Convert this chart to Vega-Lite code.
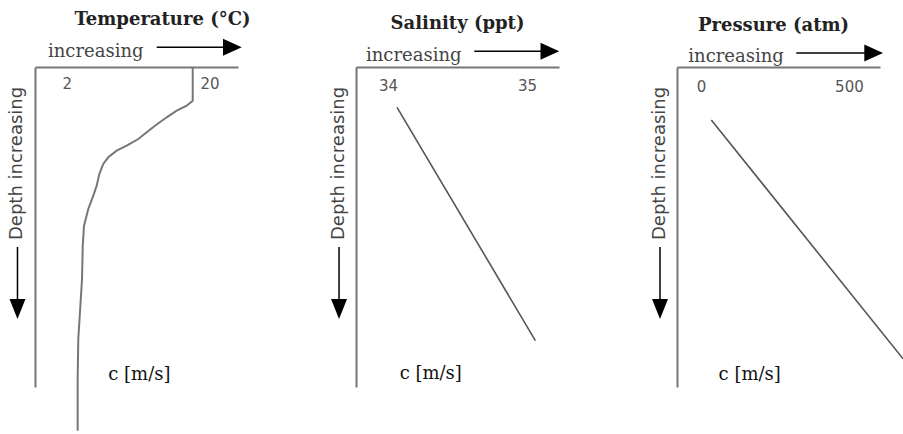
{
  "$schema": "https://vega.github.io/schema/vega-lite/v6.json",
  "background": "white",
  "padding": {"left": 8, "top": 10, "right": 0, "bottom": 0},
  "config": {"view": {"stroke": null}},
  "bounds": "flush",
  "spacing": 118,
  "hconcat": [
    {
      "width": 203,
      "height": 320,
      "title": {"text": "Temperature (°C)", "font": "DejaVu Serif", "fontWeight": "bold", "fontSize": 18, "color": "#222", "anchor": "middle", "dx": 26, "offset": 10},
      "layer": [
        {
          "data": {"values": [
            {"temperature": 17.89, "depth": 0},
            {"temperature": 17.89, "depth": 10.53},
            {"temperature": 17.13, "depth": 12.09},
            {"temperature": 15.87, "depth": 13.66},
            {"temperature": 14.61, "depth": 15.72},
            {"temperature": 13.13, "depth": 18.34},
            {"temperature": 12.09, "depth": 20.41},
            {"temperature": 11.03, "depth": 22.5},
            {"temperature": 9.56, "depth": 24.59},
            {"temperature": 8.3, "depth": 26.16},
            {"temperature": 7.24, "depth": 28.22},
            {"temperature": 6.61, "depth": 30.31},
            {"temperature": 6.11, "depth": 33.44},
            {"temperature": 5.78, "depth": 37.09},
            {"temperature": 5.35, "depth": 40.22},
            {"temperature": 4.72, "depth": 44.38},
            {"temperature": 4.18, "depth": 49.59},
            {"temperature": 4.02, "depth": 55.84},
            {"temperature": 3.93, "depth": 66.25},
            {"temperature": 3.67, "depth": 76.66},
            {"temperature": 3.46, "depth": 85},
            {"temperature": 3.38, "depth": 97.5},
            {"temperature": 3.38, "depth": 113.66}
          ]},
          "mark": {"type": "line", "color": "#777", "strokeWidth": 2, "clip": false},
          "encoding": {
            "x": {"field": "temperature", "type": "quantitative", "scale": {"domain": [-2, 23.6], "nice": false, "zero": false},
              "axis": {"orient": "top", "values": [2, 20], "format": "d", "ticks": false, "tickSize": 0, "domain": true, "domainColor": "#777", "domainWidth": 2, "grid": false, "labelFont": "DejaVu Sans", "labelFontSize": 15, "labelColor": "#555", "labelPadding": -16, "labelBaseline": "middle", "labelFlush": false, "title": null}},
            "y": {"field": "depth", "type": "quantitative", "scale": {"domain": [0, 100], "reverse": true, "nice": false, "zero": false},
              "axis": {"orient": "left", "domain": true, "domainColor": "#777", "domainWidth": 2, "ticks": false, "labels": false, "grid": false, "title": null}},
            "order": {"field": "depth", "type": "quantitative"}
          }
        },
        {
          "data": {"values": [{"x": -0.36, "y": -3.28, "label": "increasing"}]},
          "mark": {"type": "text", "align": "left", "baseline": "alphabetic", "font": "DejaVu Serif", "fontSize": 18, "color": "#444", "clip": false},
          "encoding": {"x": {"field": "x", "type": "quantitative"}, "y": {"field": "y", "type": "quantitative"}, "text": {"field": "label"}}
        },
        {
          "data": {"values": [{"x": 13.35, "x2": 21.83, "y": -6.16}]},
          "mark": {"type": "rule", "color": "#000", "strokeWidth": 1.5, "clip": false},
          "encoding": {"x": {"field": "x", "type": "quantitative"}, "x2": {"field": "x2"}, "y": {"field": "y", "type": "quantitative"}}
        },
        {
          "data": {"values": [{"x": 22.89, "y": -6.16}]},
          "mark": {"type": "point", "shape": "M-1,-0.9L1,0L-1,0.9Z", "filled": true, "opacity": 1, "color": "#000", "size": 350, "clip": false},
          "encoding": {"x": {"field": "x", "type": "quantitative"}, "y": {"field": "y", "type": "quantitative"}}
        },
        {
          "data": {"values": [{"x": -4.21, "y": 54.06, "label": "Depth increasing"}]},
          "mark": {"type": "text", "angle": 270, "align": "left", "baseline": "middle", "font": "DejaVu Sans", "fontSize": 18, "color": "#444", "clip": false},
          "encoding": {"x": {"field": "x", "type": "quantitative"}, "y": {"field": "y", "type": "quantitative"}, "text": {"field": "label"}}
        },
        {
          "data": {"values": [{"x": -4.21, "y": 56.25, "y2": 72.8}]},
          "mark": {"type": "rule", "color": "#000", "strokeWidth": 1.5, "clip": false},
          "encoding": {"x": {"field": "x", "type": "quantitative"}, "y": {"field": "y", "type": "quantitative"}, "y2": {"field": "y2"}}
        },
        {
          "data": {"values": [{"x": -4.21, "y": 75.6}]},
          "mark": {"type": "point", "shape": "M-0.8,-1L0.8,-1L0,1Z", "filled": true, "opacity": 1, "color": "#000", "size": 400, "clip": false},
          "encoding": {"x": {"field": "x", "type": "quantitative"}, "y": {"field": "y", "type": "quantitative"}}
        },
        {
          "data": {"values": [{"x": 7.24, "y": 97.8, "label": "c [m/s]"}]},
          "mark": {"type": "text", "align": "left", "baseline": "alphabetic", "font": "DejaVu Serif", "fontSize": 18, "color": "#111", "clip": false},
          "encoding": {"x": {"field": "x", "type": "quantitative"}, "y": {"field": "y", "type": "quantitative"}, "text": {"field": "label"}}
        }
      ]
    },
    {
      "width": 203,
      "height": 320,
      "title": {"text": "Salinity (ppt)", "font": "DejaVu Serif", "fontWeight": "bold", "fontSize": 18, "color": "#222", "anchor": "middle", "dx": 0, "offset": 10},
      "layer": [
        {
          "data": {"values": [
            {"salinity": 34.065, "depth": 12.6},
            {"salinity": 35.06, "depth": 85.5}
          ]},
          "mark": {"type": "line", "color": "#555", "strokeWidth": 1.6, "clip": false},
          "encoding": {
            "x": {"field": "salinity", "type": "quantitative", "scale": {"domain": [33.77, 35.23], "nice": false, "zero": false},
              "axis": {"orient": "top", "values": [34, 35], "format": "d", "ticks": false, "tickSize": 0, "domain": true, "domainColor": "#777", "domainWidth": 2, "grid": false, "labelFont": "DejaVu Sans", "labelFontSize": 15, "labelColor": "#555", "labelPadding": -18, "labelBaseline": "middle", "labelFlush": false, "title": null}},
            "y": {"field": "depth", "type": "quantitative", "scale": {"domain": [0, 100], "reverse": true, "nice": false, "zero": false},
              "axis": {"orient": "left", "domain": true, "domainColor": "#777", "domainWidth": 2, "ticks": false, "labels": false, "grid": false, "title": null}},
            "order": {"field": "depth", "type": "quantitative"}
          }
        },
        {
          "data": {"values": [{"x": 33.842, "y": -1.97, "label": "increasing"}]},
          "mark": {"type": "text", "align": "left", "baseline": "alphabetic", "font": "DejaVu Serif", "fontSize": 18, "color": "#444", "clip": false},
          "encoding": {"x": {"field": "x", "type": "quantitative"}, "y": {"field": "y", "type": "quantitative"}, "text": {"field": "label"}}
        },
        {
          "data": {"values": [{"x": 34.621, "x2": 35.106, "y": -4.91}]},
          "mark": {"type": "rule", "color": "#000", "strokeWidth": 1.5, "clip": false},
          "encoding": {"x": {"field": "x", "type": "quantitative"}, "x2": {"field": "x2"}, "y": {"field": "y", "type": "quantitative"}}
        },
        {
          "data": {"values": [{"x": 35.164, "y": -4.91}]},
          "mark": {"type": "point", "shape": "M-1,-0.9L1,0L-1,0.9Z", "filled": true, "opacity": 1, "color": "#000", "size": 350, "clip": false},
          "encoding": {"x": {"field": "x", "type": "quantitative"}, "y": {"field": "y", "type": "quantitative"}}
        },
        {
          "data": {"values": [{"x": 33.648, "y": 54.06, "label": "Depth increasing"}]},
          "mark": {"type": "text", "angle": 270, "align": "left", "baseline": "middle", "font": "DejaVu Sans", "fontSize": 18, "color": "#444", "clip": false},
          "encoding": {"x": {"field": "x", "type": "quantitative"}, "y": {"field": "y", "type": "quantitative"}, "text": {"field": "label"}}
        },
        {
          "data": {"values": [{"x": 33.648, "y": 56.25, "y2": 72.8}]},
          "mark": {"type": "rule", "color": "#000", "strokeWidth": 1.5, "clip": false},
          "encoding": {"x": {"field": "x", "type": "quantitative"}, "y": {"field": "y", "type": "quantitative"}, "y2": {"field": "y2"}}
        },
        {
          "data": {"values": [{"x": 33.648, "y": 75.6}]},
          "mark": {"type": "point", "shape": "M-0.8,-1L0.8,-1L0,1Z", "filled": true, "opacity": 1, "color": "#000", "size": 400, "clip": false},
          "encoding": {"x": {"field": "x", "type": "quantitative"}, "y": {"field": "y", "type": "quantitative"}}
        },
        {
          "data": {"values": [{"x": 34.084, "y": 97.5, "label": "c [m/s]"}]},
          "mark": {"type": "text", "align": "left", "baseline": "alphabetic", "font": "DejaVu Serif", "fontSize": 18, "color": "#111", "clip": false},
          "encoding": {"x": {"field": "x", "type": "quantitative"}, "y": {"field": "y", "type": "quantitative"}, "text": {"field": "label"}}
        }
      ]
    },
    {
      "width": 203,
      "height": 320,
      "title": {"text": "Pressure (atm)", "font": "DejaVu Serif", "fontWeight": "bold", "fontSize": 18, "color": "#222", "anchor": "middle", "dx": -5, "offset": 10},
      "layer": [
        {
          "data": {"values": [
            {"pressure": 35, "depth": 16.56},
            {"pressure": 683, "depth": 91.2}
          ]},
          "mark": {"type": "line", "color": "#555", "strokeWidth": 1.6, "clip": false},
          "encoding": {
            "x": {"field": "pressure", "type": "quantitative", "scale": {"domain": [-81, 605], "nice": false, "zero": false},
              "axis": {"orient": "top", "values": [0, 500], "format": "d", "ticks": false, "tickSize": 0, "domain": true, "domainColor": "#777", "domainWidth": 2, "grid": false, "labelFont": "DejaVu Sans", "labelFontSize": 15, "labelColor": "#555", "labelPadding": -19, "labelBaseline": "middle", "labelFlush": false, "title": null}},
            "y": {"field": "depth", "type": "quantitative", "scale": {"domain": [0, 100], "reverse": true, "nice": false, "zero": false},
              "axis": {"orient": "left", "domain": true, "domainColor": "#777", "domainWidth": 2, "ticks": false, "labels": false, "grid": false, "title": null}},
            "order": {"field": "depth", "type": "quantitative"}
          }
        },
        {
          "data": {"values": [{"x": -42.8, "y": -1.56, "label": "increasing"}]},
          "mark": {"type": "text", "align": "left", "baseline": "alphabetic", "font": "DejaVu Serif", "fontSize": 18, "color": "#444", "clip": false},
          "encoding": {"x": {"field": "x", "type": "quantitative"}, "y": {"field": "y", "type": "quantitative"}, "text": {"field": "label"}}
        },
        {
          "data": {"values": [{"x": 322.1, "x2": 555.3, "y": -4.375}]},
          "mark": {"type": "rule", "color": "#000", "strokeWidth": 1.5, "clip": false},
          "encoding": {"x": {"field": "x", "type": "quantitative"}, "x2": {"field": "x2"}, "y": {"field": "y", "type": "quantitative"}}
        },
        {
          "data": {"values": [{"x": 583.5, "y": -4.375}]},
          "mark": {"type": "point", "shape": "M-1,-0.9L1,0L-1,0.9Z", "filled": true, "opacity": 1, "color": "#000", "size": 350, "clip": false},
          "encoding": {"x": {"field": "x", "type": "quantitative"}, "y": {"field": "y", "type": "quantitative"}}
        },
        {
          "data": {"values": [{"x": -138.4, "y": 54.06, "label": "Depth increasing"}]},
          "mark": {"type": "text", "angle": 270, "align": "left", "baseline": "middle", "font": "DejaVu Sans", "fontSize": 18, "color": "#444", "clip": false},
          "encoding": {"x": {"field": "x", "type": "quantitative"}, "y": {"field": "y", "type": "quantitative"}, "text": {"field": "label"}}
        },
        {
          "data": {"values": [{"x": -138.4, "y": 56.25, "y2": 72.8}]},
          "mark": {"type": "rule", "color": "#000", "strokeWidth": 1.5, "clip": false},
          "encoding": {"x": {"field": "x", "type": "quantitative"}, "y": {"field": "y", "type": "quantitative"}, "y2": {"field": "y2"}}
        },
        {
          "data": {"values": [{"x": -138.4, "y": 75.6}]},
          "mark": {"type": "point", "shape": "M-0.8,-1L0.8,-1L0,1Z", "filled": true, "opacity": 1, "color": "#000", "size": 400, "clip": false},
          "encoding": {"x": {"field": "x", "type": "quantitative"}, "y": {"field": "y", "type": "quantitative"}}
        },
        {
          "data": {"values": [{"x": 59.6, "y": 97.8, "label": "c [m/s]"}]},
          "mark": {"type": "text", "align": "left", "baseline": "alphabetic", "font": "DejaVu Serif", "fontSize": 18, "color": "#111", "clip": false},
          "encoding": {"x": {"field": "x", "type": "quantitative"}, "y": {"field": "y", "type": "quantitative"}, "text": {"field": "label"}}
        }
      ]
    }
  ]
}
